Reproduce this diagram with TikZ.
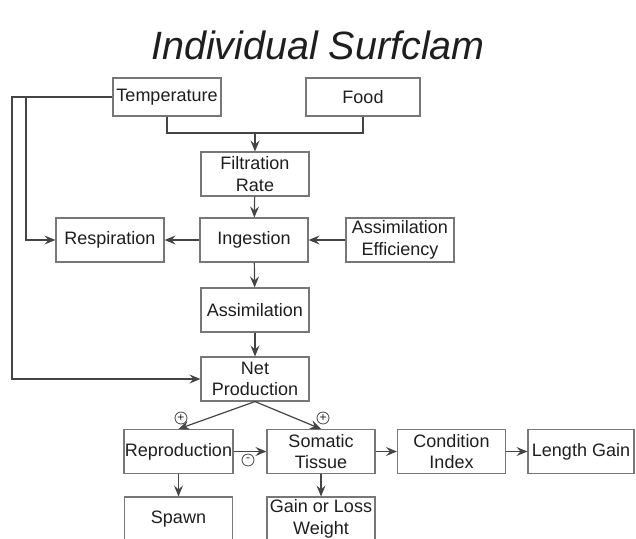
\documentclass[tikz,border=0pt]{standalone}
\usepackage{fontspec}
\setmainfont{Liberation Sans}
\usepackage{tikz}
\usetikzlibrary{arrows.meta}

\definecolor{boxgray}{HTML}{777777}
\definecolor{linegray}{HTML}{444444}
\definecolor{textgray}{HTML}{1E1E1E}

\tikzset{
  box/.style={draw=boxgray, line width=1.1pt, minimum width=108pt, minimum height=44pt,
    inner xsep=1pt, inner ysep=1pt, align=center, text=textgray,
    font=\fontsize{18}{21.5}\selectfont},
  line/.style={draw=linegray, line width=1.2pt},
  arr/.style={line, -{Stealth[length=11pt,width=9pt,inset=4pt]}},
  sign/.style={circle, draw=linegray, line width=0.8pt, inner sep=0pt, minimum size=12pt,
    font=\fontsize{12}{12}\selectfont, text=textgray}
}

\begin{document}
\begin{tikzpicture}[x=1pt,y=-1pt]
\useasboundingbox (0,0) rectangle (636,538);
\clip (0,0) rectangle (636,538);

\node[text=textgray, font=\fontsize{39.5}{40}\selectfont\itshape] (title) at (318,45) {Individual Surfclam};

% inputs
\node[box, minimum height=38pt] (temp) at (167,97) {Temperature};
\node[box, minimum height=38pt, minimum width=114pt] (food) at (363,97) {Food};
\node[box] (filt) at (255,174) {Filtration\\Rate};

% middle row
\node[box] (ingest) at (254,240) {Ingestion};
\node[box] (resp) at (110,240) {Respiration};
\node[box] (assimeff) at (400,240) {Assimilation\\Efficiency};
\node[box] (assim) at (255,310) {Assimilation};
\node[box] (netprod) at (255,379) {Net\\Production};

% outputs
\node[box] (repro) at (178.5,451.5) {Reproduction};
\node[box] (somatic) at (321,451.5) {Somatic\\Tissue};
\node[box] (cond) at (451.5,451.5) {Condition\\Index};
\node[box, minimum width=106pt] (length) at (581,451.5) {Length Gain};
\node[box] (spawn) at (178.5,519) {Spawn};
\node[box] (gainloss) at (321,519) {Gain or Loss\\Weight};

\coordinate (join) at (255,133);
\coordinate (outer) at (12,97);
\coordinate (inner) at (26,97);

\draw[line] (temp.south) |- (join) -| (food.south);
\draw[arr] (join) -- (filt.north);
\draw[arr] (temp.west) -- (outer) |- (netprod.west);
\draw[arr] (inner) |- (resp.west);
\draw[arr] (filt) -- (ingest);
\draw[arr] (ingest) -- (resp);
\draw[arr] (assimeff) -- (ingest);
\draw[arr] (ingest) -- (assim);
\draw[arr] (assim) -- (netprod);
\draw[arr] (netprod.south) -- (repro.north);
\draw[arr] (netprod.south) -- (somatic.north);
\draw[arr] (repro) -- (somatic);
\draw[arr] (somatic) -- (cond);
\draw[arr] (cond) -- (length);
\draw[arr] (repro) -- (spawn);
\draw[arr] (somatic) -- (gainloss);

\node[sign] (plusl) at (181,418) {+};
\node[sign] (plusr) at (323,418) {+};
\node[sign] (minus) at (248,460) {-};
\end{tikzpicture}
\end{document}
